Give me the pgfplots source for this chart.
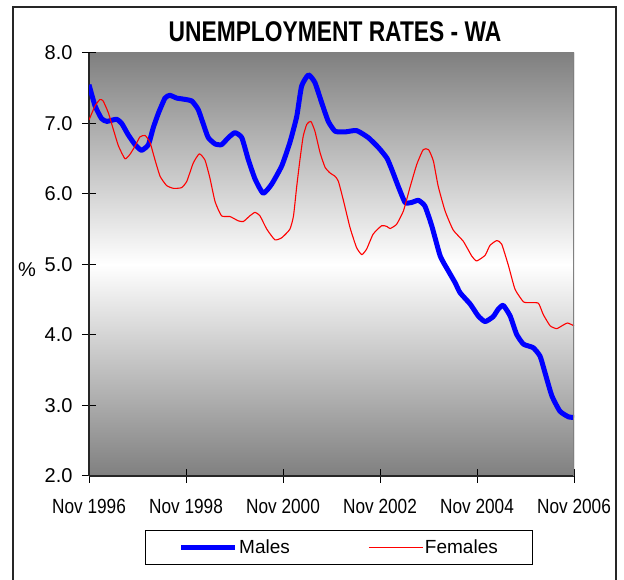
\documentclass[border=0pt]{standalone}
\usepackage{pgfplots}
\pgfplotsset{compat=1.18}
\usepackage{fontspec}
\setmainfont{Liberation Sans}

% months since Nov 1996, rate in %
\pgfplotstableread{
m    r
0    7.55
1.5  7.25
3.1  7.07
4.4  7.03
6.8  7.06
8.1  7.00
9.7  6.84
11.4 6.70
13.0 6.62
14.7 6.70
15.9 6.94
17.2 7.15
18.8 7.36
20.0 7.40
21.7 7.36
22.9 7.35
25.4 7.32
27.0 7.20
28.3 6.99
29.5 6.80
31.2 6.71
32.8 6.70
34.5 6.80
36.1 6.87
37.8 6.80
39.4 6.49
41.1 6.21
43.1 6.01
45.2 6.14
47.7 6.40
49.7 6.73
51.4 7.10
52.6 7.53
54.3 7.69
55.9 7.58
57.6 7.29
59.2 7.03
60.9 6.89
63.3 6.88
66.2 6.90
69.1 6.80
71.6 6.66
73.7 6.51
74.9 6.35
76.5 6.11
78.2 5.88
79.8 5.88
81.5 5.91
83.1 5.83
84.8 5.55
86.9 5.12
88.9 4.91
90.6 4.74
91.8 4.60
94.3 4.44
96.3 4.27
98.0 4.19
100.0 4.26
101.3 4.37
102.5 4.42
104.2 4.27
105.8 4.01
107.5 3.87
109.9 3.82
111.6 3.70
112.8 3.47
114.5 3.14
116.5 2.92
118.6 2.84
120  2.83
}\males

\pgfplotstableread{
m    r
0    7.05
1.5  7.25
2.7  7.34
3.5  7.32
4.8  7.15
6.0  6.92
7.3  6.68
8.9  6.50
10.1 6.56
11.4 6.68
12.6 6.81
13.9 6.83
15.1 6.73
16.3 6.49
17.6 6.25
19.2 6.12
20.9 6.08
22.9 6.09
24.2 6.18
25.8 6.44
27.3 6.57
28.7 6.48
29.9 6.23
31.2 5.89
32.8 5.69
34.9 5.68
36.9 5.62
38.2 5.61
39.8 5.69
41.1 5.74
42.3 5.69
44.0 5.50
46.0 5.35
47.7 5.38
49.7 5.50
50.6 5.69
51.4 6.11
52.2 6.49
53.0 6.82
53.9 6.99
54.9 7.03
55.9 6.89
57.2 6.58
58.4 6.38
59.6 6.30
60.9 6.25
61.7 6.18
62.9 5.92
64.6 5.52
66.2 5.24
67.5 5.14
68.7 5.22
70.3 5.43
72.4 5.55
73.7 5.54
74.5 5.51
76.1 5.57
77.8 5.76
79.4 6.09
81.1 6.42
82.7 6.63
84.0 6.63
85.2 6.47
86.4 6.11
88.1 5.76
90.1 5.49
92.6 5.33
94.7 5.12
95.9 5.05
98.0 5.13
99.2 5.27
100.9 5.34
102.1 5.29
103.8 4.98
105.4 4.65
107.5 4.47
109.1 4.46
111.2 4.45
112.4 4.29
114.1 4.13
115.7 4.09
117.0 4.13
118.4 4.17
120  4.13
}\females

\begin{document}
\begin{tikzpicture}[x=1pt,y=1pt]
\useasboundingbox (0,0) rectangle (624,580);
\draw[line width=1.5pt, black!85] (13,-10) -- (13,573) -- (616,573) -- (616,-10);
\node[font=\bfseries\fontsize{28.5}{30}\selectfont, xscale=0.8] at (335,548.5) {UNEMPLOYMENT RATES - WA};
\node[font=\fontsize{20}{22}\selectfont] at (27,310) {\%};
\begin{axis}[
  scale only axis,
  width=485pt, height=423pt,
  at={(89pt,104pt)}, anchor=south west,
  xmin=0, xmax=120, ymin=2, ymax=8,
  enlargelimits=false,
  axis lines=left,
  axis line style={-, line width=1.5pt, black!85},
  axis background/.style={top color=black!50, bottom color=black!50, middle color=white},
  tick align=center,
  major tick length=14pt,
  tick style={black, line width=1pt},
  xtick={0,24,48,72,96,120},
  xticklabels={Nov 1996, Nov 1998, Nov 2000, Nov 2002, Nov 2004, Nov 2006},
  ytick={2,3,4,5,6,7,8},
  /pgf/number format/assume math mode=true,
  yticklabel style={/pgf/number format/.cd, fixed, fixed zerofill, precision=1, assume math mode=true, /tikz/.cd,
    font=\fontsize{20}{22}\selectfont, xshift=-6pt},
  xticklabel style={font=\fontsize{20.5}{22}\selectfont, xscale=0.84, yshift=-13pt},
  legend columns=2,
  legend cell align=left,
  legend image code/.code={\draw[#1] (0pt,0pt) -- (54pt,0pt);},
  legend style={at={(0.5155,-0.169)}, anchor=center, draw=black, line width=1pt,
    font=\fontsize{19}{21}\selectfont, inner xsep=33.5pt, inner ysep=7.5pt,
    nodes={inner sep=1.5pt},
    /tikz/every even column/.append style={column sep=77pt}},
]
\addplot[blue, line width=5pt, smooth, tension=0.3, line join=round] table[x=m, y=r] {\males};
\addlegendentry{Males}
\addplot[red, line width=1.1pt, smooth, tension=0.3, line join=round] table[x=m, y=r] {\females};
\addlegendentry{Females}
\draw[black!50, line width=2.5pt] (axis description cs:1,0) -- (axis description cs:1,1);
\end{axis}
\end{tikzpicture}
\end{document}
